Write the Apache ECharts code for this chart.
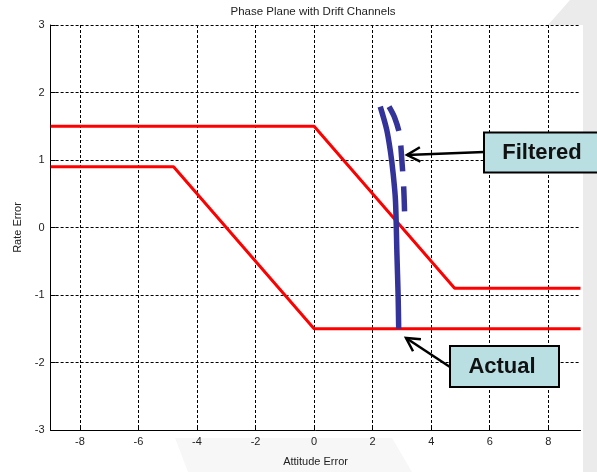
<!DOCTYPE html>
<html><head><meta charset="utf-8">
<script src="https://cdn.jsdelivr.net/npm/echarts@6/dist/echarts.min.js"></script>
<style>html,body{margin:0;padding:0;background:#fff}#c{width:597px;height:472px}</style>
</head><body><div id="c"></div>
<script>
// ---- data ----
const xTicks = [-8, -6, -4, -2, 0, 2, 4, 6, 8];
const upperChannelX = [-9, 0, 4.8, 9.1];
const upperChannelY = [1.5, 1.5, -0.9, -0.9];
const lowerChannelX = [-9, -4.8, 0, 9.1];
const lowerChannelY = [0.9, 0.9, -1.5, -1.5];
const actualX = [2.89, 2.87, 2.83, 2.78, 2.70, 2.61, 2.48, 2.26];
const actualY = [-1.5, -1.0, -0.4, 0.4, 0.8, 1.12, 1.45, 1.79];
const filteredX = [2.56, 2.75, 2.92, 2.99, 3.06, 3.09];
const filteredY = [1.79, 1.63, 1.38, 1.04, 0.6, 0.24];

const zip = (xs, ys) => xs.map((x, i) => [x, ys[i]]);
const FONT = '"Liberation Sans", Arial, sans-serif';

const chart = echarts.init(document.getElementById('c'), null, {renderer: 'canvas'});

function arrowEls(tail, tip) {
  const ang = Math.atan2(tip[1] - tail[1], tip[0] - tail[0]);
  const L = 15, a = 0.5;
  const p1 = [tip[0] - L * Math.cos(ang - a), tip[1] - L * Math.sin(ang - a)];
  const p2 = [tip[0] - L * Math.cos(ang + a), tip[1] - L * Math.sin(ang + a)];
  const st = {stroke: '#000', lineWidth: 2.5, fill: null};
  return [
    {type: 'line', z: 100, shape: {x1: tail[0], y1: tail[1], x2: tip[0], y2: tip[1]}, style: st},
    {type: 'polyline', z: 100, shape: {points: [p1, tip, p2]}, style: st}
  ];
}

function box(x, y, w, h, label, tx) {
  return [
    {type: 'rect', z: 101, shape: {x: x, y: y, width: w, height: h},
     style: {fill: '#b9dfe3', stroke: '#000', lineWidth: 2}},
    {type: 'text', z: 102, x: tx, y: y + h / 2,
     style: {text: label, font: 'bold 22px ' + FONT, fill: '#111', align: 'center', verticalAlign: 'middle'}}
  ];
}

const option = {
  animation: false,
  backgroundColor: '#fff',
  grid: {left: 50.6, right: 16.5, top: 25, bottom: 35, containLabel: false},
  xAxis: {
    type: 'value', min: -9, max: 9.1,
    name: 'Attitude Error', nameLocation: 'middle', nameGap: 26,
    nameTextStyle: {fontFamily: FONT, fontSize: 11, color: '#222'},
    axisLine: {show: true, onZero: false, lineStyle: {color: '#000', width: 1}},
    axisTick: {show: true, inside: true, length: 5, customValues: xTicks, lineStyle: {color: '#000'}},
    axisLabel: {customValues: xTicks, fontFamily: FONT, fontSize: 11, color: '#222', margin: 6},
    splitLine: {show: true, lineStyle: {color: '#000', width: 1, type: [3, 2]}}
  },
  yAxis: {
    type: 'value', min: -3, max: 3, interval: 1,
    name: 'Rate Error', nameLocation: 'middle', nameGap: 25,
    nameTextStyle: {fontFamily: FONT, fontSize: 11, color: '#222'},
    axisLine: {show: true, onZero: false, lineStyle: {color: '#000', width: 1}},
    axisTick: {show: true, inside: true, length: 5, lineStyle: {color: '#000'}},
    axisLabel: {fontFamily: FONT, fontSize: 11, color: '#222', margin: 6},
    splitLine: {show: true, lineStyle: {color: '#000', width: 1, type: [3, 2]}}
  },
  series: [
    {type: 'line', name: 'Upper channel', data: zip(upperChannelX, upperChannelY), showSymbol: false,
     lineStyle: {color: '#ff0000', width: 3}, z: 3},
    {type: 'line', name: 'Lower channel', data: zip(lowerChannelX, lowerChannelY), showSymbol: false,
     lineStyle: {color: '#ff0000', width: 3}, z: 3},
    {type: 'line', name: 'Actual', data: zip(actualX, actualY), showSymbol: false, smooth: 0.3,
     lineStyle: {color: '#333399', width: 5.5}, z: 4},
    {type: 'line', name: 'Filtered', data: zip(filteredX, filteredY), showSymbol: false, smooth: 0.3,
     lineStyle: {color: '#333399', width: 5.5, type: [26, 15], cap: 'butt'}, z: 4}
  ],
  graphic: [
    {type: 'polygon', z: -10, silent: true,
     shape: {points: [[570, 0], [597, 0], [597, 472], [583, 472], [583, 25], [548, 25]]},
     style: {fill: '#ebebeb'}},
    {type: 'polygon', z: -10, silent: true,
     shape: {points: [[175, 438], [392, 438], [412, 472], [188, 472]]},
     style: {fill: '#f7f7f7'}},
    {type: 'text', x: 313, y: 12,
     style: {text: 'Phase Plane with Drift Channels', font: '11.5px ' + FONT, fill: '#222',
             align: 'center', verticalAlign: 'middle'}},
    ...arrowEls([484, 152], [407, 155]),
    ...arrowEls([450, 367], [406, 338]),
    ...box(484, 132.5, 130, 40, 'Filtered', 542),
    ...box(450, 346, 109, 41, 'Actual', 502)
  ]
};
chart.setOption(option);
</script>
</body></html>
